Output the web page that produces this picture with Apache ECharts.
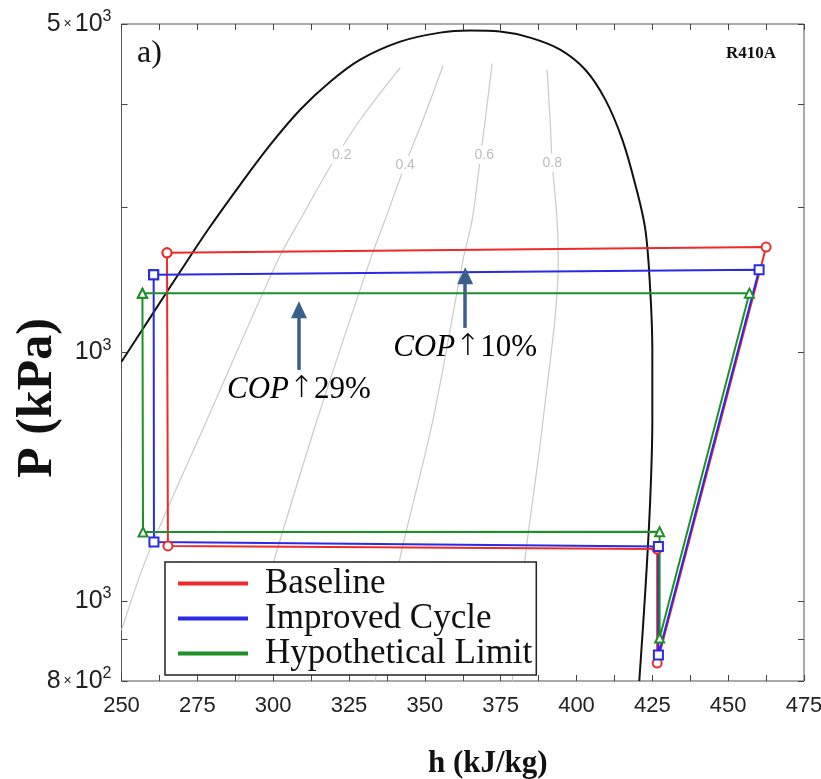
<!DOCTYPE html>
<html>
<head>
<meta charset="utf-8">
<script src="https://cdn.jsdelivr.net/npm/echarts@6/dist/echarts.min.js"></script>
<style>
  html, body { margin: 0; padding: 0; background: #fff; }
  #chart { width: 821px; height: 779px; }
</style>
</head>
<body>
<div id="chart"></div>
<script>
// saturation dome of R410A (h kJ/kg, P kPa)
const domeH = [250.0, 259.4, 269.3, 278.5, 289.1, 299.0, 308.9, 318.8, 328.7, 341.9, 355.1, 364.9, 374.8,
  384.7, 394.6, 402.9, 409.5, 415.1, 419.4, 422.7, 424.3, 425.0, 425.0, 424.3, 422.7, 420.7];
const domeP = [1949, 2203, 2505, 2817, 3193, 3569, 3937, 4257, 4527, 4760, 4881, 4909, 4895,
  4813, 4655, 4401, 4049, 3622, 3193, 2817, 2382, 2015, 1658, 1326, 1031, 800];

// constant quality lines
const q02H = [341.9, 328.7, 318.8, 308.9, 301.6, 278.2, 258.4, 250.0];
const q02P = [4426, 3828, 3358, 2896, 2590, 1658, 1131, 922];
const q04H = [356.0, 349.4, 343.5, 336.9, 332.0, 314.5, 300.6, 288.4];
const q04P = [4451, 3828, 3377, 2896, 2590, 1658, 1131, 800];
const q06H = [372.2, 369.9, 367.6, 365.6, 362.6, 352.7, 341.9, 333.6];
const q06P = [4477, 3828, 3284, 2896, 2590, 1658, 1131, 800];
const q08H = [390.3, 391.3, 392.0, 393.6, 394.0, 389.0, 383.1, 378.8];
const q08P = [4401, 3828, 3396, 2896, 2590, 1658, 1131, 800];
const qualLabels = ['0.2', '0.4', '0.6', '0.8'];
const qualLabelH = [322.6, 343.5, 369.6, 392.0];
const qualLabelP = [3472, 3377, 3472, 3396];

// cycles
const baseH = [265.0, 265.3, 426.6, 426.6, 462.5, 265.0];
const baseP = [2641, 1166, 1156, 841, 2684, 2641];
const impH = [260.6, 260.7, 427.0, 427.0, 460.2, 260.6];
const impP = [2484, 1179, 1164, 860, 2519, 2484];
const limH = [256.9, 257.1, 427.4, 427.4, 457.0, 256.9];
const limP = [2359, 1212, 1213, 902, 2360, 2359];

// COP annotations
const arrowH = [308.5, 363.3];
const arrowTailP = [1905, 2142];
const arrowTipP = [2253, 2477];
const copGain = ['29%', '10%'];

// axis ticks
const xTicks = { min: 250, max: 475, step: 25 };
const yTicks = [800, 900, 1000, 2000, 3000, 4000, 5000];
const yLabelVals = [800, 1000, 2000, 5000];
const yLabelMant = ['8', '', '', '5'];
const yLabelExp = ['2', '3', '3', '3'];

const zip = (hs, ps) => hs.map((h, i) => [h, ps[i]]);

function yLabel(v) {
  let lv = v > 50 ? Math.log10(v) : v;
  for (let i = 0; i < yLabelVals.length; i++) {
    if (Math.abs(Math.log10(yLabelVals[i]) - lv) < 0.005) {
      const m = yLabelMant[i];
      return (m ? '{n|' + m + '}{x|×}' : '') + '{n|10}{s|' + yLabelExp[i] + '}';
    }
  }
  return '';
}

const tickColor = '#444';
const chart = echarts.init(document.getElementById('chart'));

function cycle(name, hs, ps, color, symbol, size) {
  return {
    name: name, type: 'line', data: zip(hs, ps),
    lineStyle: { color: color, width: 2 },
    itemStyle: { color: color, borderWidth: 1.3 },
    symbol: symbol, symbolSize: size, showAllSymbol: true, z: 4
  };
}
function qline(hs, ps, i) {
  return {
    name: 'q' + i, type: 'line', data: zip(hs, ps), symbol: 'none', smooth: 0.3,
    lineStyle: { color: '#cacaca', width: 1.2 }, z: 1
  };
}

chart.setOption({
  animation: false,
  grid: {
    left: 121.5, right: 17, top: 24, bottom: 98, show: true, borderColor: '#555', borderWidth: 1,
    containLabel: false, outerBoundsMode: 'none'
  },
  legend: {
    data: ['Baseline', 'Improved Cycle', 'Hypothetical Limit'],
    orient: 'vertical', left: 165, top: 562,
    icon: 'rect', itemWidth: 70, itemHeight: 4, itemGap: 0,
    padding: [4, 4, 4, 13],
    borderColor: '#222', borderWidth: 1.5, backgroundColor: '#fff',
    textStyle: { fontFamily: 'Liberation Serif', fontSize: 35, lineHeight: 33.5, color: '#111', padding: [0, 0, 0, 12] },
    z: 10
  },
  xAxis: [{
    type: 'value', min: xTicks.min, max: xTicks.max, interval: xTicks.step,
    axisLine: { show: false }, splitLine: { show: false },
    axisTick: { inside: true, length: 6, lineStyle: { color: tickColor } },
    minorTick: { show: true, splitNumber: 2, length: 6, lineStyle: { color: tickColor } },
    axisLabel: { fontFamily: 'Liberation Sans', fontSize: 22, color: '#222', margin: 14 },
    name: 'h (kJ/kg)', nameLocation: 'middle', nameGap: 67,
    nameTextStyle: { fontFamily: 'Liberation Serif', fontWeight: 'bold', fontSize: 31, color: '#111', padding: [0, 0, 0, 50] }
  }, {
    type: 'value', position: 'top', min: xTicks.min, max: xTicks.max, interval: xTicks.step,
    axisLine: { show: false }, splitLine: { show: false }, axisLabel: { show: false },
    axisTick: { inside: true, length: 6, lineStyle: { color: tickColor } },
    minorTick: { show: true, splitNumber: 2, length: 6, lineStyle: { color: tickColor } }
  }],
  yAxis: [{
    type: 'log', logBase: 10, min: 800, max: 5000,
    axisLine: { show: false }, splitLine: { show: false }, minorTick: { show: false },
    axisTick: { inside: true, length: 6, customValues: yTicks, lineStyle: { color: tickColor } },
    axisLabel: {
      customValues: yLabelVals, formatter: yLabel, margin: 10,
      rich: {
        n: { fontFamily: 'Liberation Sans', fontSize: 25, color: '#222', lineHeight: 30 },
        x: { fontFamily: 'Liberation Sans', fontSize: 14, color: '#222', padding: [0, 3, 0, 3] },
        s: { fontFamily: 'Liberation Sans', fontSize: 16, color: '#222', verticalAlign: 'top' }
      }
    }
  }, {
    type: 'log', logBase: 10, min: 800, max: 5000, position: 'right',
    axisLine: { show: false }, splitLine: { show: false }, axisLabel: { show: false }, minorTick: { show: false },
    axisTick: { inside: true, length: 6, customValues: yTicks, lineStyle: { color: tickColor } }
  }],
  graphic: [
    {
      type: 'text', x: 38, y: 398, rotation: Math.PI / 2,
      style: { text: 'P (kPa)', font: 'bold 50px "Liberation Serif"', fill: '#111', textAlign: 'center', textVerticalAlign: 'middle' }
    },
    { type: 'text', left: 137, top: 38, style: { text: 'a)', font: '32px "Liberation Serif"', fill: '#111' } },
    { type: 'text', left: 726, top: 45, style: { text: 'R410A', font: 'bold 17px "Liberation Serif"', fill: '#111' } }
  ],
  series: [
    qline(q02H, q02P, 2), qline(q04H, q04P, 4), qline(q06H, q06P, 6), qline(q08H, q08P, 8),
    {
      name: 'qlabels', type: 'scatter', symbolSize: 0, z: 2, itemStyle: { opacity: 1 },
      data: qualLabels.map((t, i) => ({ name: t, value: [qualLabelH[i], qualLabelP[i]] })),
      label: {
        show: true, position: 'inside', formatter: '{b}', color: '#bcbcbc',
        fontFamily: 'Liberation Sans', fontSize: 14, backgroundColor: '#fff', padding: [2, 1]
      }
    },
    {
      name: 'dome', type: 'line', data: zip(domeH, domeP), symbol: 'none', smooth: 0.35,
      lineStyle: { color: '#111', width: 2 }, z: 3
    },
    cycle('Baseline', baseH, baseP, '#ee2a2a', 'emptyCircle', 9),
    cycle('Improved Cycle', impH, impP, '#2a2ae6', 'emptyRect', 9),
    cycle('Hypothetical Limit', limH, limP, '#1f8f2a', 'emptyTriangle', 9),
    {
      name: 'cop', type: 'scatter', symbolSize: 0, z: 6, itemStyle: { opacity: 1 },
      data: arrowH.map((h, i) => ({ name: copGain[i], value: [h, arrowTailP[i]] })),
      label: {
        show: true, position: 'bottom', distance: 4,
        formatter: p => '{i|COP}{a|↑}{n|' + p.name + '}',
        rich: {
          i: { fontFamily: 'Liberation Serif', fontStyle: 'italic', fontSize: 31, color: '#000' },
          a: { fontFamily: 'DejaVu Sans', fontWeight: 'lighter', fontSize: 30, color: '#000' },
          n: { fontFamily: 'Liberation Serif', fontSize: 31, color: '#000' }
        }
      },
      markLine: {
        silent: true, symbol: ['none', 'triangle'], symbolSize: [16, 17],
        lineStyle: { color: '#3b5f8c', width: 3.5, type: 'solid' },
        label: { show: false },
        data: arrowH.map((h, i) => [{ coord: [h, arrowTailP[i]] }, { coord: [h, arrowTipP[i]] }])
      }
    }
  ]
});
</script>
</body>
</html>
